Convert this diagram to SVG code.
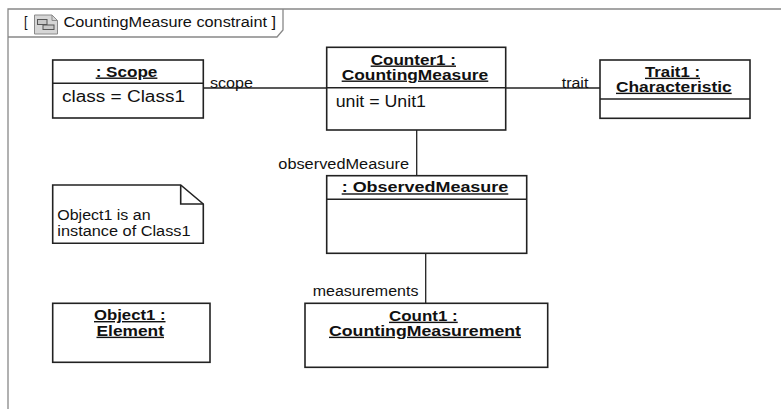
<svg xmlns="http://www.w3.org/2000/svg" width="781" height="409" viewBox="0 0 781 409">
<style>
.box{fill:#fff;stroke:#222;stroke-width:1.6}
.sep{stroke:#222;stroke-width:1.6}
.conn{stroke:#222;stroke-width:1.3;fill:none}
.frame{stroke:#888;stroke-width:1.3;fill:none}
text{font-family:"Liberation Sans",Arial,sans-serif;fill:#111}
.t{font-size:14px;font-weight:bold;text-decoration:underline;text-anchor:start}
.a{font-size:16px}
.l{font-size:14px}
.n{font-size:14px}
.h{font-size:14px}
</style>
<rect x="0" y="0" width="781" height="409" fill="#fff"/>
<g id="frame">
<path class="frame" d="M8,409 V9 H781"/>
<path class="frame" d="M8,37 H277 L283,30 V9"/>
<text class="h" x="24" y="26.5" textLength="3.5" lengthAdjust="spacingAndGlyphs">[</text>
<path d="M34.5,15 H52 L57.5,20.5 V34 H34.5 Z" fill="#d6d6d6" stroke="#8a8a8a" stroke-width="1"/>
<path d="M52,15 V20.5 H57.5" fill="none" stroke="#8a8a8a" stroke-width="1"/>
<rect x="37.5" y="19.5" width="9.5" height="5" fill="#c8c8c8" stroke="#555" stroke-width="1"/>
<rect x="43" y="25" width="11" height="4.5" fill="#c8c8c8" stroke="#555" stroke-width="1"/>
<text class="h" x="63.5" y="26.5" textLength="212.5" lengthAdjust="spacingAndGlyphs">CountingMeasure constraint ]</text>
</g>
<g id="connectors">
<line class="conn" x1="203.3" y1="88" x2="326.7" y2="88"/>
<line class="conn" x1="505.7" y1="88" x2="600" y2="88"/>
<line class="conn" x1="416.7" y1="130" x2="416.7" y2="175.7"/>
<line class="conn" x1="425.7" y1="253.3" x2="425.7" y2="303.3"/>
<text class="l" x="210" y="88" textLength="43" lengthAdjust="spacingAndGlyphs">scope</text>
<text class="l" x="561.7" y="88" textLength="26.7" lengthAdjust="spacingAndGlyphs">trait</text>
<text class="l" x="278.3" y="169" textLength="130.7" lengthAdjust="spacingAndGlyphs">observedMeasure</text>
<text class="l" x="312.7" y="296" textLength="105.7" lengthAdjust="spacingAndGlyphs">measurements</text>
</g>
<g id="scope">
<rect class="box" x="52.7" y="60" width="150.6" height="58"/>
<line class="sep" x1="52.7" y1="83.3" x2="203.3" y2="83.3"/>
<text class="t" x="95.7" y="76.5" textLength="61.7" lengthAdjust="spacingAndGlyphs">: Scope</text>
<text class="a" x="62" y="101.7" textLength="123" lengthAdjust="spacingAndGlyphs">class = Class1</text>
</g>
<g id="counter1">
<rect class="box" x="326.7" y="47.3" width="179" height="82.7"/>
<line class="sep" x1="326.7" y1="87.7" x2="505.7" y2="87.7"/>
<text class="t" x="370.7" y="64.5" textLength="85.3" lengthAdjust="spacingAndGlyphs">Counter1 :</text>
<text class="t" x="341.7" y="79.5" textLength="146.6" lengthAdjust="spacingAndGlyphs">CountingMeasure</text>
<text class="a" x="335.7" y="106.7" textLength="90.3" lengthAdjust="spacingAndGlyphs">unit = Unit1</text>
</g>
<g id="trait1">
<rect class="box" x="600" y="60" width="150" height="58.3"/>
<line class="sep" x1="600" y1="99" x2="750" y2="99"/>
<text class="t" x="645" y="76.7" textLength="55" lengthAdjust="spacingAndGlyphs">Trait1 :</text>
<text class="t" x="616" y="91.7" textLength="115.7" lengthAdjust="spacingAndGlyphs">Characteristic</text>
</g>
<g id="observedMeasure">
<rect class="box" x="326.7" y="175.7" width="200" height="77.6"/>
<line class="sep" x1="326.7" y1="199.3" x2="526.7" y2="199.3"/>
<text class="t" x="341.7" y="192.3" textLength="166.6" lengthAdjust="spacingAndGlyphs">: ObservedMeasure</text>
</g>
<g id="note">
<path class="box" d="M52.7,185 H180.7 L203.3,204 V243.3 H52.7 Z"/>
<path class="conn" d="M180.7,185 V204 H203.3" style="stroke-width:1.6"/>
<text class="n" x="57.3" y="220" textLength="93.3" lengthAdjust="spacingAndGlyphs">Object1 is an</text>
<text class="n" x="57.3" y="235.7" textLength="133.3" lengthAdjust="spacingAndGlyphs">instance of Class1</text>
</g>
<g id="object1">
<rect class="box" x="52.7" y="303.3" width="157.3" height="59"/>
<text class="t" x="94" y="320" textLength="71.5" lengthAdjust="spacingAndGlyphs">Object1 :</text>
<text class="t" x="96.5" y="335.7" textLength="67.5" lengthAdjust="spacingAndGlyphs">Element</text>
</g>
<g id="count1">
<rect class="box" x="305" y="303.3" width="242.7" height="64"/>
<text class="t" x="389" y="320.7" textLength="68.7" lengthAdjust="spacingAndGlyphs">Count1 :</text>
<text class="t" x="329" y="335.7" textLength="192" lengthAdjust="spacingAndGlyphs">CountingMeasurement</text>
</g>
</svg>
